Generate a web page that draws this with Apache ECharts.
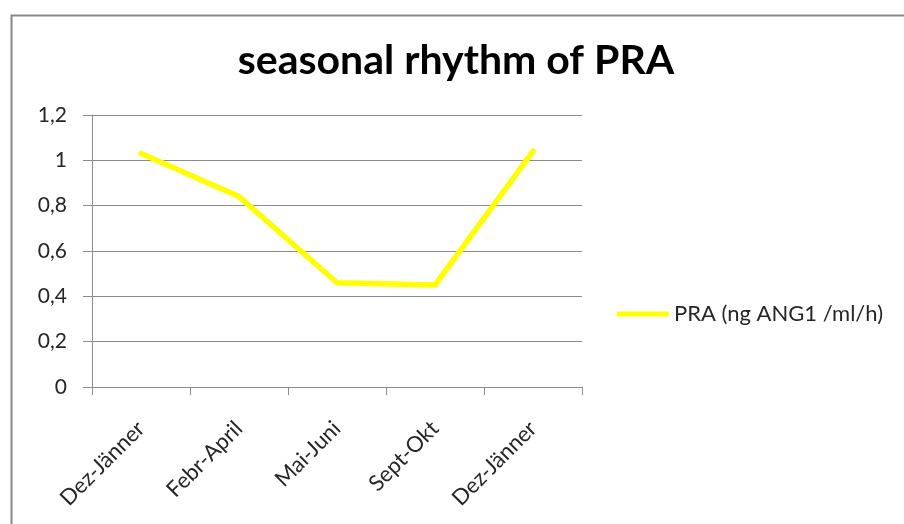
<!DOCTYPE html>
<html>
<head>
<meta charset="utf-8">
<script src="https://cdn.jsdelivr.net/npm/echarts@6/dist/echarts.min.js"></script>
<style>
html,body{margin:0;padding:0;background:#fff;}
#chart{width:904px;height:524px;}
</style>
</head>
<body>
<div id="chart"></div>
<script>
const titleText = 'seasonal rhythm of PRA';
const seriesName = 'PRA (ng ANG1 /ml/h)';
const categories = ['Dez-Jänner', 'Febr-April', 'Mai-Juni', 'Sept-Okt', 'Dez-Jänner'];
const praValues = [1.03, 0.84, 0.46, 0.45, 1.04];
const yTickValues = [0, 0.2, 0.4, 0.6, 0.8, 1, 1.2];
const yTickLabels = ['0', '0,2', '0,4', '0,6', '0,8', '1', '1,2'];

const FONT = 'Lato';
const chart = echarts.init(document.getElementById('chart'), null, {renderer: 'canvas'});
chart.setOption({
  animation: false,
  backgroundColor: '#ffffff',
  graphic: [{
    type: 'rect',
    left: 9, top: 13,
    shape: {width: 1000, height: 700},
    style: {fill: 'none', stroke: '#878787', lineWidth: 2},
    silent: true, z: -1
  }],
  title: {
    text: titleText,
    left: 451, textAlign: 'center',
    top: 35,
    textStyle: {fontFamily: FONT, fontWeight: 'bold', fontSize: 41, color: '#000'}
  },
  legend: {
    left: 612, top: 298,
    itemWidth: 52, itemHeight: 14, itemGap: 6,
    icon: 'path://M0,0 L52,0 L52,5 L0,5 Z',
    textStyle: {fontFamily: FONT, fontSize: 22, color: '#262626', padding: [0, 0, 0, 0]},
    data: [seriesName]
  },
  grid: {left: 92, right: 322, top: 115, bottom: 137, containLabel: false},
  xAxis: {
    type: 'category',
    data: categories,
    boundaryGap: true,
    axisLine: {show: true, lineStyle: {color: '#8c8c8c', width: 1}},
    axisTick: {show: true, length: 8, alignWithLabel: false, lineStyle: {color: '#8c8c8c'}},
    axisLabel: {rotate: 45, margin: 38, fontFamily: FONT, fontSize: 22, color: '#262626', interval: 0},
    splitLine: {show: false}
  },
  yAxis: {
    type: 'value',
    min: 0, max: 1.2, interval: 0.2,
    axisLine: {show: true, lineStyle: {color: '#8c8c8c', width: 1}},
    axisTick: {show: true, length: 9, lineStyle: {color: '#8c8c8c'}},
    axisLabel: {
      margin: 25, fontFamily: FONT, fontSize: 21, color: '#262626',
      formatter: function (v) {
        const i = yTickValues.findIndex(t => Math.abs(t - v) < 1e-9);
        return i >= 0 ? yTickLabels[i] : String(v).replace('.', ',');
      }
    },
    splitLine: {show: true, lineStyle: {color: '#8c8c8c', width: 1}}
  },
  series: [{
    name: seriesName,
    type: 'line',
    data: praValues,
    symbol: 'none',
    lineStyle: {color: '#FFFF00', width: 5.5, cap: 'round', join: 'round'},
    itemStyle: {color: '#FFFF00'}
  }]
});
</script>
</body>
</html>
